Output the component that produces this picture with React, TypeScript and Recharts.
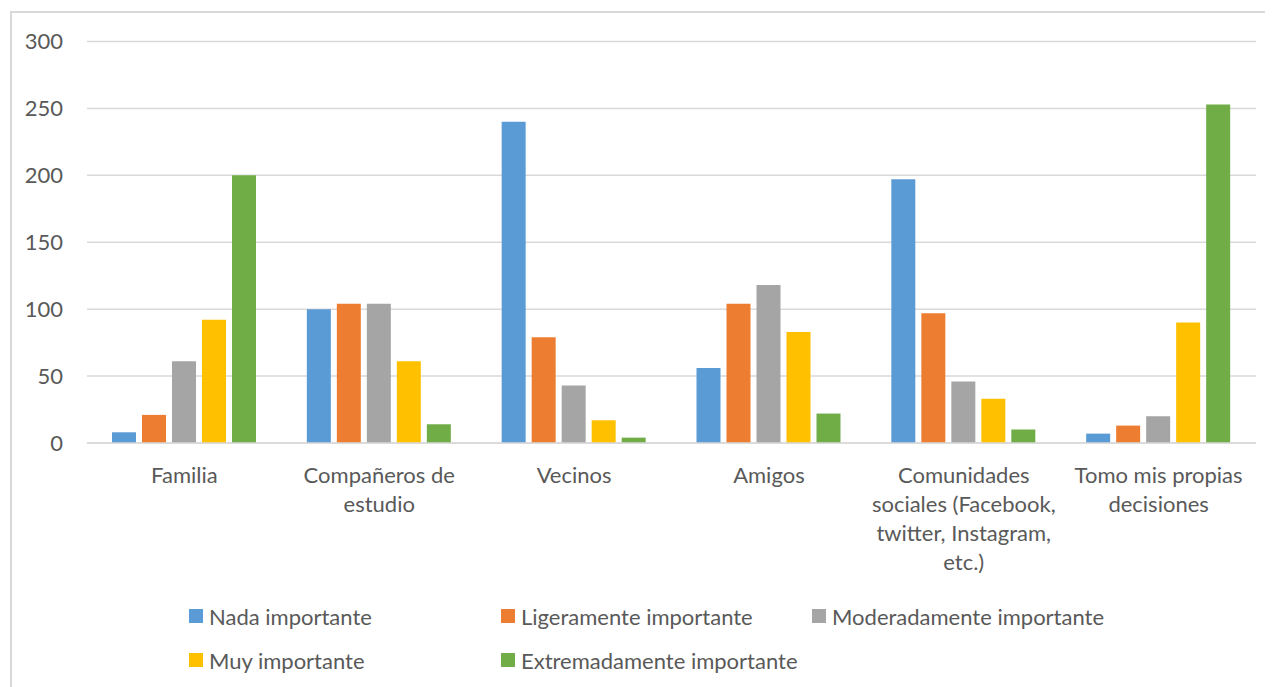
import React from "react";
import { BarChart, Bar, XAxis, YAxis, CartesianGrid, Legend } from "recharts";

const categories = [
  "Familia",
  "Compañeros de estudio",
  "Vecinos",
  "Amigos",
  "Comunidades sociales (Facebook, twitter, Instagram, etc.)",
  "Tomo mis propias decisiones",
];

// how each category label wraps under the axis
const categoryLines: string[][] = [
  ["Familia"],
  ["Compañeros de", "estudio"],
  ["Vecinos"],
  ["Amigos"],
  ["Comunidades", "sociales (Facebook,", "twitter, Instagram,", "etc.)"],
  ["Tomo mis propias", "decisiones"],
];

const nada = [8, 100, 240, 56, 197, 7];
const ligeramente = [21, 104, 79, 104, 97, 13];
const moderadamente = [61, 104, 43, 118, 46, 20];
const muy = [92, 61, 17, 83, 33, 90];
const extremadamente = [200, 14, 4, 22, 10, 253];

const yTicks = [0, 50, 100, 150, 200, 250, 300];

const SERIES = [
  { key: "nada", name: "Nada importante", color: "#5B9BD5" },
  { key: "ligeramente", name: "Ligeramente importante", color: "#ED7D31" },
  { key: "moderadamente", name: "Moderadamente importante", color: "#A5A5A5" },
  { key: "muy", name: "Muy importante", color: "#FFC000" },
  { key: "extremadamente", name: "Extremadamente importante", color: "#70AD47" },
];

const data = categories.map((name, i) => ({
  name,
  nada: nada[i],
  ligeramente: ligeramente[i],
  moderadamente: moderadamente[i],
  muy: muy[i],
  extremadamente: extremadamente[i],
}));

const FONT = "Lato, 'Open Sans', sans-serif";
const TEXT = "#595959";
const GRID = "#d9d9d9";
const FONT_SIZE = 22;

function CategoryTick(props: any) {
  const { x, y, index } = props;
  const lines = categoryLines[index] || [];
  return (
    <g transform={`translate(${x},${y})`}>
      {lines.map((line, i) => (
        <text
          key={i}
          x={0}
          y={38 + i * 29}
          textAnchor="middle"
          fill={TEXT}
          fontSize={FONT_SIZE}
          fontFamily={FONT}
        >
          {line}
        </text>
      ))}
    </g>
  );
}

function LegendGrid() {
  return (
    <div
      style={{
        display: "grid",
        gridTemplateColumns: "312px 311px 330px",
        fontFamily: FONT,
        fontSize: FONT_SIZE,
        color: TEXT,
      }}
    >
      {SERIES.map((s) => (
        <div
          key={s.key}
          style={{ display: "flex", alignItems: "center", height: 44, whiteSpace: "nowrap" }}
        >
          <span
            style={{
              width: 14,
              height: 14,
              background: s.color,
              marginRight: 6,
              display: "inline-block",
              flexShrink: 0,
            }}
          />
          <span>{s.name}</span>
        </div>
      ))}
    </div>
  );
}

export default function App() {
  return (
    <div style={{ position: "relative", width: 1265, height: 679 }}>
      <div
        style={{
          position: "absolute",
          left: 2,
          top: 3,
          width: 1300,
          height: 700,
          borderLeft: `2px solid ${GRID}`,
          borderTop: `2px solid ${GRID}`,
        }}
      />
      <BarChart
        width={1265}
        height={679}
        data={data}
        margin={{ top: 33.5, right: 17, bottom: 0, left: 0 }}
        barSize={24}
        barGap={6}
        style={{ position: "absolute", left: 0, top: 0 }}
      >
        <CartesianGrid vertical={false} stroke={GRID} strokeWidth={1.5} />
        <XAxis
          dataKey="name"
          height={244}
          tickLine={false}
          tickSize={0}
          axisLine={{ stroke: GRID, strokeWidth: 1.5 }}
          interval={0}
          tick={<CategoryTick />}
        />
        <YAxis
          width={79}
          domain={[0, 300]}
          ticks={yTicks}
          tickLine={false}
          axisLine={false}
          tickSize={0}
          tickMargin={24}
          tick={{ fill: TEXT, fontSize: FONT_SIZE, fontFamily: FONT }}
        />
        <Legend
          layout="horizontal"
          verticalAlign="middle"
          align="center"
          content={() => <LegendGrid />}
          wrapperStyle={{ position: "absolute", top: 586, left: 181, width: 960 }}
        />
        {SERIES.map((s) => (
          <Bar
            key={s.key}
            dataKey={s.key}
            name={s.name}
            fill={s.color}
            isAnimationActive={false}
          />
        ))}
      </BarChart>
    </div>
  );
}
